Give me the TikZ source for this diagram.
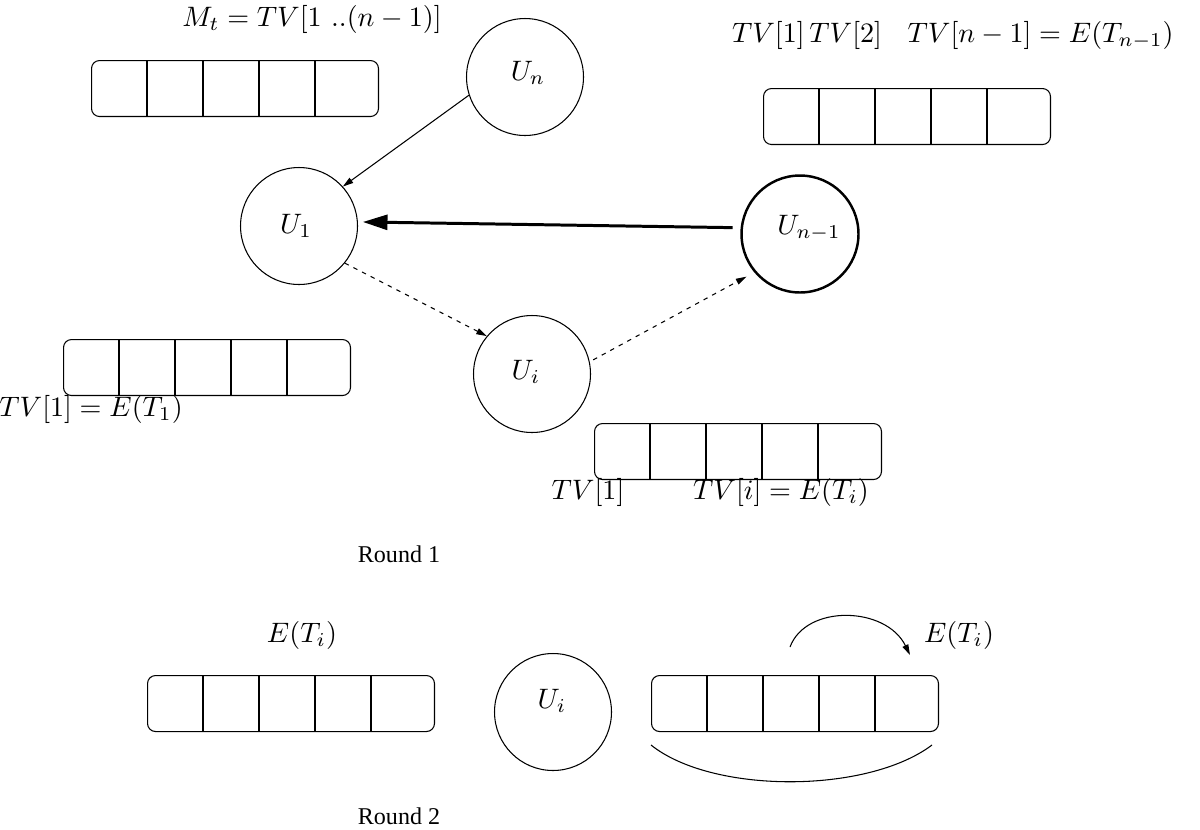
\documentclass[tikz,border=0pt]{standalone}
\usepackage{fontspec}
\newfontfamily\tnr{Liberation Serif}
\usetikzlibrary{arrows.meta,calc}
\tikzset{
  circ/.style={circle,draw,line width=0.6pt,minimum size=2.34cm,inner sep=0pt},
  thickcirc/.style={circ,line width=1.4pt},
  arr/.style={draw,line width=0.6pt,rounded corners=0.16cm,minimum width=5.74cm,minimum height=1.12cm,inner sep=0pt},
  lbl/.style={inner sep=0pt,scale=1.6},
  rnd/.style={inner sep=0pt,font=\tnr\fontsize{13.7}{16}\selectfont},
  conn/.style={line width=0.6pt,-{Triangle[length=6pt,width=3.5pt]}},
  dconn/.style={conn,dash pattern=on 2.5pt off 3pt},
  bigconn/.style={line width=1.7pt,-{Triangle[length=14pt,width=8.5pt]}},
  plain/.style={line width=0.6pt}
}
\newcommand\cellarray[3]{%
  \node[arr,anchor=north west] (#1) at (#2,#3) {};
  \foreach \k in {1,...,4}
    \draw[plain] ($(#1.north west)+(56*\k,0)$) -- ($(#1.south west)+(56*\k,0)$);
}
\begin{document}
\begin{tikzpicture}[x=0.02cm,y=-0.02cm]
\useasboundingbox (0,0) rectangle (1200,829);

% arrays
\cellarray{A1}{91}{60}
\cellarray{A2}{763}{88}
\cellarray{A3}{63}{339}
\cellarray{A4}{594}{423}
\cellarray{A5}{147}{675}
\cellarray{A6}{651}{675}

% circles
\node[circ] (un) at (525,77) {};
\node[circ] (u1) at (299,226) {};
\node[thickcirc] (un1) at (800,234) {};
\node[circ] (ui) at (532,374) {};
\node[circ] (ui2) at (553,712) {};

\node[lbl] (lun) at (528,73) {$U_n$};
\node[lbl] (lu1) at (296,226) {$U_1$};
\node[lbl] (lun1) at (809,228) {$U_{n-1}$};
\node[lbl] (lui) at (526,372) {$U_i$};
\node[lbl] (lui2) at (552,701) {$U_i$};

% connectors
\draw[conn] (un.198) -- (u1.42);
\draw[bigconn,shorten <=0.16cm,shorten >=0.1cm] (un1.174) -- (u1.4.5);
\draw[dconn] (u1.-39) -- (ui.140);
\draw[dconn,shorten <=0.08cm,shorten >=0.18cm] (ui.12) -- (un1.220);

% labels
\node[lbl] (mt) at (312,19) {$M_t = TV[1\ ..(n-1)]$};
\node[lbl] (tv12) at (807,35) {$TV[1]\,TV[2]$};
\node[lbl,anchor=west] (tvn) at (907,35) {$TV[n-1] = E(T_{n-1})$};
\node[lbl] (tv1) at (91,409) {$TV[1] = E(T_1)$};
\node[lbl] (tv1b) at (588,492) {$TV[1]$};
\node[lbl] (tvi) at (781,492) {$TV[i] = E(T_i)$};
\node[lbl] (eti1) at (302,635) {$E(T_i)$};
\node[lbl] (eti2) at (959,635) {$E(T_i)$};
\node[rnd] (r1) at (399,554) {Round 1};
\node[rnd] (r2) at (399,816) {Round 2};

% round 2 arcs
\coordinate (a1) at (790,647);
\coordinate (a2) at (910,655);
\draw[conn] (a1) .. controls (806,604) and (886,606) .. (a2);
\coordinate (b1) at (651,745);
\coordinate (b2) at (932,745);
\draw[plain] (b1) .. controls (712,794) and (867,794) .. (b2);
\end{tikzpicture}
\end{document}
